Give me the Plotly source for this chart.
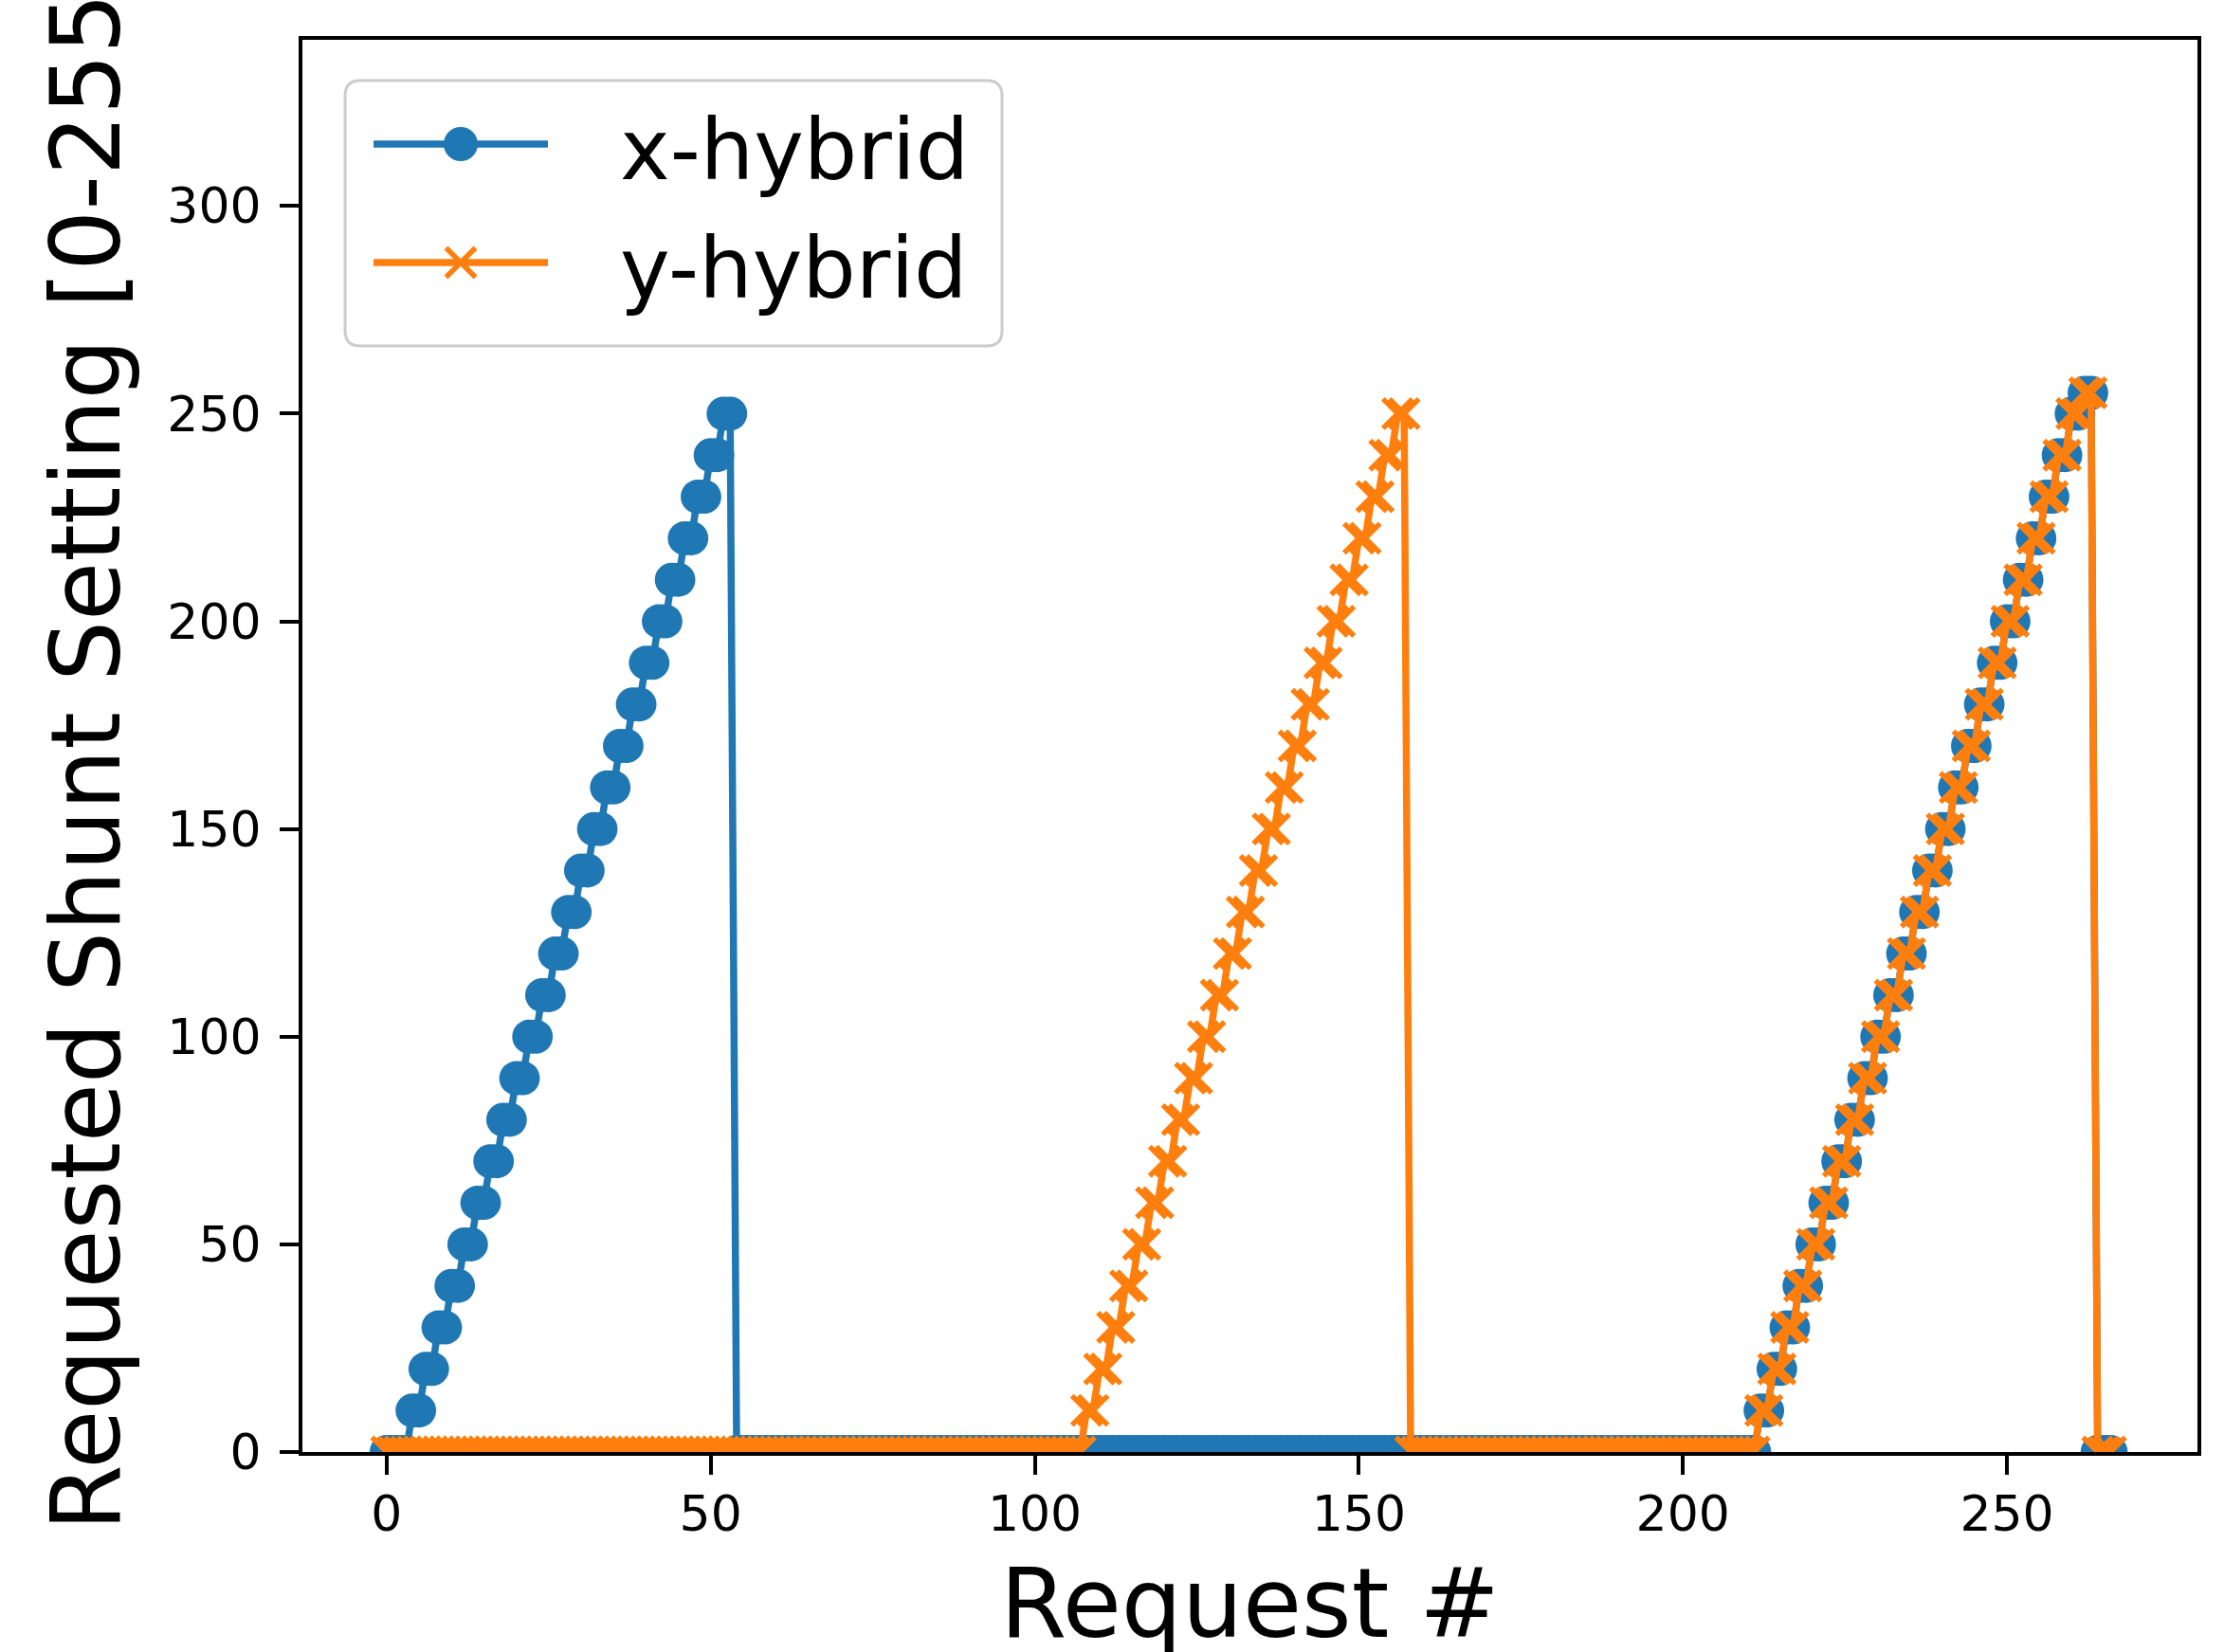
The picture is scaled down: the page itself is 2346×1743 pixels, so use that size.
import plotly.graph_objects as go

# Requested shunt setting [0-255] per request, stored as the sequence of
# settings and the number of consecutive requests that held each setting.
x_levels = [0,
            10, 20, 30, 40, 50, 60, 70, 80, 90, 100, 110, 120, 130,
            140, 150, 160, 170, 180, 190, 200, 210, 220, 230, 240, 250,
            0,
            10, 20, 30, 40, 50, 60, 70, 80, 90, 100, 110, 120, 130,
            140, 150, 160, 170, 180, 190, 200, 210, 220, 230, 240, 250,
            255, 0]
x_holds = [4,
           2, 2, 2, 2, 2, 2, 2, 2, 2, 2, 2, 2, 2,
           2, 2, 2, 2, 2, 2, 2, 2, 2, 2, 2, 2,
           158,
           2, 2, 2, 2, 2, 2, 2, 2, 2, 2, 2, 2, 2,
           2, 2, 2, 2, 2, 2, 2, 2, 2, 2, 2, 2,
           2, 3]

y_levels = [0,
            10, 20, 30, 40, 50, 60, 70, 80, 90, 100, 110, 120, 130,
            140, 150, 160, 170, 180, 190, 200, 210, 220, 230, 240, 250,
            0,
            10, 20, 30, 40, 50, 60, 70, 80, 90, 100, 110, 120, 130,
            140, 150, 160, 170, 180, 190, 200, 210, 220, 230, 240, 250,
            255, 0]
y_holds = [108,
           2, 2, 2, 2, 2, 2, 2, 2, 2, 2, 2, 2, 2,
           2, 2, 2, 2, 2, 2, 2, 2, 2, 2, 2, 2,
           54,
           2, 2, 2, 2, 2, 2, 2, 2, 2, 2, 2, 2, 2,
           2, 2, 2, 2, 2, 2, 2, 2, 2, 2, 2, 2,
           2, 3]

x_ticks = [0, 50, 100, 150, 200, 250]
y_ticks = [0, 50, 100, 150, 200, 250, 300]

series_names = ["x-hybrid", "y-hybrid"]
BLUE = "#1f77b4"
ORANGE = "#ff7f0e"
FONT = "DejaVu Sans"


def expand(levels, holds):
    values = []
    for level, count in zip(levels, holds):
        values.extend([level] * count)
    return list(range(len(values))), values


x_req, x_val = expand(x_levels, x_holds)
y_req, y_val = expand(y_levels, y_holds)

# Figure geometry (pixels)
W, H = 2346, 1743
ML, MR, MT, MB = 319, 28, 42, 211
PW, PH = W - ML - MR, H - MT - MB


def px_x(p):
    return (p - ML) / PW


def px_y(p):
    return (H - MB - p) / PH


fig = go.Figure()

fig.add_trace(go.Scatter(
    x=x_req, y=x_val, mode="lines+markers", name=series_names[0],
    line=dict(color=BLUE, width=7.5),
    marker=dict(symbol="circle", size=36, color=BLUE),
    showlegend=False,
))
fig.add_trace(go.Scatter(
    x=y_req, y=y_val, mode="lines+markers", name=series_names[1],
    line=dict(color=ORANGE, width=7.5),
    marker=dict(symbol="x-thin", size=31, color=ORANGE,
                line=dict(color=ORANGE, width=5.5)),
    showlegend=False,
))

# Legend drawn on an overlay axis spanning the plot area in [0, 1] units
handle_x0, handle_x1 = px_x(394), px_x(578)
handle_mid = px_x(486)
for name, color, symbol, ypx, mline in [
    (series_names[0], BLUE, "circle", 152, dict(width=0)),
    (series_names[1], ORANGE, "x-thin", 277, dict(color=ORANGE, width=5.5)),
]:
    yy = px_y(ypx)
    fig.add_trace(go.Scatter(
        x=[handle_x0, handle_x1], y=[yy, yy], mode="lines",
        line=dict(color=color, width=7.5), xaxis="x2", yaxis="y2",
        showlegend=False, hoverinfo="skip",
    ))
    fig.add_trace(go.Scatter(
        x=[handle_mid], y=[yy], mode="markers",
        marker=dict(symbol=symbol, size=36 if symbol == "circle" else 31,
                    color=color, line=mline),
        xaxis="x2", yaxis="y2", showlegend=False, hoverinfo="skip",
    ))

# Rounded legend frame
bx0, by0, bx1, by1, r = 364, 85, 1057, 365, 16


def P(x, y):
    return f"{px_x(x):.6f},{px_y(y):.6f}"


frame_path = (
    f"M {P(bx0 + r, by0)} L {P(bx1 - r, by0)} "
    f"Q {P(bx1, by0)} {P(bx1, by0 + r)} L {P(bx1, by1 - r)} "
    f"Q {P(bx1, by1)} {P(bx1 - r, by1)} L {P(bx0 + r, by1)} "
    f"Q {P(bx0, by1)} {P(bx0, by1 - r)} L {P(bx0, by0 + r)} "
    f"Q {P(bx0, by0)} {P(bx0 + r, by0)} Z"
)
fig.add_shape(type="path", path=frame_path, xref="paper", yref="paper",
              line=dict(color="rgba(204,204,204,1)", width=3),
              fillcolor="rgba(255,255,255,0.8)", layer="below")

annotations = [
    dict(text=series_names[0], x=px_x(652), y=px_y(158), xanchor="left",
         yanchor="middle", font=dict(family=FONT, size=89, color="black")),
    dict(text=series_names[1], x=px_x(652), y=px_y(283), xanchor="left",
         yanchor="middle", font=dict(family=FONT, size=89, color="black")),
    dict(text="Request #", x=px_x((ML + W - MR) / 2), y=px_y(1692),
         xanchor="center", yanchor="middle",
         font=dict(family=FONT, size=101, color="black")),
    dict(text="Requested Shunt Setting [0-255]", x=px_x(90), y=px_y(1618),
         xanchor="center", yanchor="bottom", textangle=-90,
         font=dict(family=FONT, size=101, color="black")),
]
for a in annotations:
    a.update(xref="paper", yref="paper", showarrow=False)

axis_common = dict(
    showline=True, linecolor="black", linewidth=4, mirror=True,
    ticks="outside", ticklen=20, tickwidth=4, tickcolor="black",
    showgrid=False, zeroline=False,
    tickfont=dict(family=FONT, size=52, color="black"),
)

fig.update_layout(
    width=W, height=H, autosize=False,
    margin=dict(l=ML, r=MR, t=MT, b=MB, pad=0),
    paper_bgcolor="white", plot_bgcolor="white",
    showlegend=False,
    xaxis=dict(range=[-13.0, 279.4], tickvals=x_ticks,
               ticklabelstandoff=-3, **axis_common),
    yaxis=dict(range=[0, 340], tickvals=y_ticks,
               ticklabelstandoff=9, **axis_common),
    xaxis2=dict(overlaying="x", range=[0, 1], visible=False),
    yaxis2=dict(overlaying="y", range=[0, 1], visible=False),
    annotations=annotations,
)

fig.write_html("out.html")
